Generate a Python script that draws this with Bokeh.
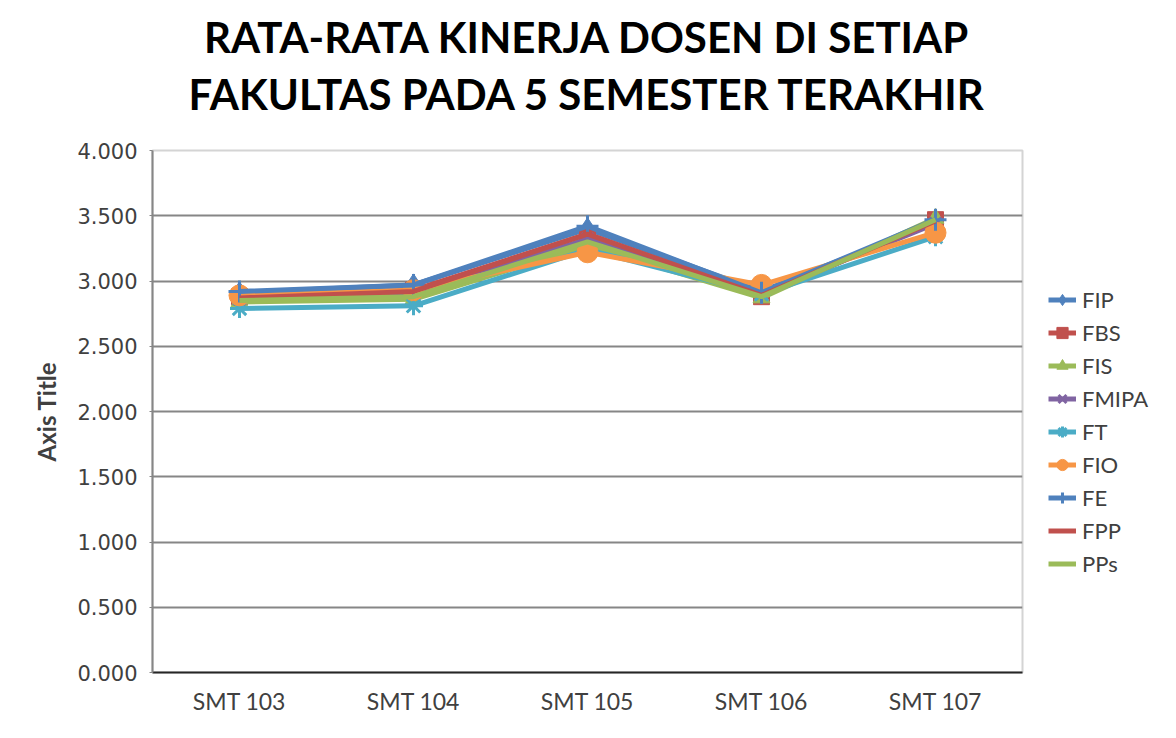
from bokeh.plotting import figure
from bokeh.models import (FactorRange, Range1d, PrintfTickFormatter, Legend, LegendItem,
                          Title, FixedTicker)
from bokeh.layouts import row
from bokeh.embed import file_html
from bokeh.resources import INLINE

semesters = ["SMT 103", "SMT 104", "SMT 105", "SMT 106", "SMT 107"]

FIP = [2.91, 2.97, 3.40, 2.92, 3.45]
FBS = [2.88, 2.93, 3.36, 2.88, 3.47]
FIS = [2.84, 2.86, 3.27, 2.87, 3.48]
FMIPA = [2.86, 2.90, 3.32, 2.90, 3.44]
FT = [2.79, 2.81, 3.24, 2.90, 3.34]
FIO = [2.89, 2.93, 3.22, 2.97, 3.37]
FE = [2.92, 2.97, 3.42, 2.91, 3.47]
FPP = [2.87, 2.92, 3.36, 2.89, 3.46]
PPs = [2.85, 2.88, 3.30, 2.88, 3.47]

series_names = ["FIP", "FBS", "FIS", "FMIPA", "FT", "FIO", "FE", "FPP", "PPs"]
series_values = [FIP, FBS, FIS, FMIPA, FT, FIO, FE, FPP, PPs]
y_ticks = [0.0, 0.5, 1.0, 1.5, 2.0, 2.5, 3.0, 3.5, 4.0]
title_lines = ["RATA-RATA KINERJA DOSEN DI SETIAP", "FAKULTAS PADA 5 SEMESTER TERAKHIR"]

styles = {
    "FIP": ("#4F81BD", "diamond", 22),
    "FBS": ("#C0504D", "square", 16),
    "FIS": ("#9BBB59", "triangle", 17),
    "FMIPA": ("#8064A2", "x", 17),
    "FT": ("#4BACC6", "asterisk", 19),
    "FIO": ("#F79646", "circle", 21),
    "FE": ("#4F81BD", "cross", 22),
    "FPP": ("#C0504D", None, 0),
    "PPs": ("#9BBB59", None, 0),
}

H = 722
W1 = 1030
W2 = 130
p = figure(width=W1, height=H, x_range=FactorRange(*semesters, range_padding=0),
           y_range=Range1d(0, 4.0), output_backend="svg", toolbar_location=None,
           min_border_left=152, min_border_right=W1 - 152 - 870, min_border_top=150,
           min_border_bottom=H - 150 - 522)
p.background_fill_color = "white"
p.border_fill_color = "white"
p.outline_line_color = "#d4d4d4"
p.outline_line_width = 2

p.xgrid.grid_line_color = None
p.ygrid.ticker = FixedTicker(ticks=y_ticks)
p.ygrid.grid_line_color = "#868686"
p.ygrid.grid_line_width = 2

p.yaxis.ticker = FixedTicker(ticks=y_ticks)
p.yaxis.formatter = PrintfTickFormatter(format="%.3f")
p.yaxis.axis_line_color = "#868686"
p.yaxis.axis_line_width = 2
p.yaxis.major_tick_line_color = "#868686"
p.yaxis.major_tick_out = 3
p.yaxis.major_tick_in = 0
p.yaxis.minor_tick_line_color = None
p.yaxis.major_label_text_font = "DejaVu Sans"
p.yaxis.major_label_text_font_size = "21px"
p.yaxis.major_label_text_color = "#404040"
p.yaxis.major_label_standoff = 12
p.yaxis.axis_label = "Axis Title"
p.yaxis.axis_label_text_font = "Lato"
p.yaxis.axis_label_text_font_style = "bold"
p.yaxis.axis_label_text_font_size = "24px"
p.yaxis.axis_label_text_color = "#404040"
p.yaxis.axis_label_standoff = 13

p.xaxis.axis_line_color = "#262626"
p.xaxis.axis_line_width = 2
p.xaxis.major_tick_line_color = None
p.xaxis.minor_tick_line_color = None
p.xaxis.major_label_text_font = "Lato"
p.xaxis.major_label_text_font_size = "23px"
p.xaxis.major_label_text_color = "#404040"
p.xaxis.major_label_standoff = 8

# legend figure (its renderers sit outside its visible range; only the legend shows)
q = figure(width=W2, height=H, x_range=Range1d(0, 1), y_range=Range1d(10, 11),
           x_axis_type=None, y_axis_type=None, output_backend="svg",
           toolbar_location=None, min_border=0)
q.outline_line_color = None
q.grid.grid_line_color = None
q.background_fill_color = "white"
q.border_fill_color = "white"

idx = list(range(len(semesters)))
items = []
for name, vals in zip(series_names, series_values):
    color, marker, size = styles[name]
    p.line(semesters, vals, line_color=color, line_width=5)
    rs = [q.line(idx, vals, line_color=color, line_width=5)]
    if marker is not None:
        lw = 3 if marker in ("x", "asterisk", "cross") else 1
        p.scatter(semesters, vals, marker=marker, size=size, line_color=color,
                  line_width=lw, fill_color=color)
        rs.append(q.scatter(idx, vals, marker=marker, size=size, line_color=color,
                            line_width=lw, fill_color=color))
    items.append(LegendItem(label=name, renderers=rs))

legend = Legend(items=items, location=(18, 92), orientation="vertical",
                glyph_width=28, glyph_height=33, label_height=20, spacing=0,
                label_standoff=6, padding=0, margin=0,
                label_text_font="Lato", label_text_font_size="22px",
                label_text_color="#404040", border_line_color=None,
                background_fill_alpha=0)
q.add_layout(legend, "center")

t2 = Title(text=title_lines[1], align="center", text_font="Lato",
           text_font_style="bold", text_font_size="42px", text_color="#000000",
           standoff=64)
t1 = Title(text=title_lines[0], align="center", text_font="Lato",
           text_font_style="bold", text_font_size="42px", text_color="#000000",
           standoff=-54)
p.add_layout(t2, "above")
p.add_layout(t1, "above")

open("out.html", "w").write(file_html(row(p, q), INLINE))
